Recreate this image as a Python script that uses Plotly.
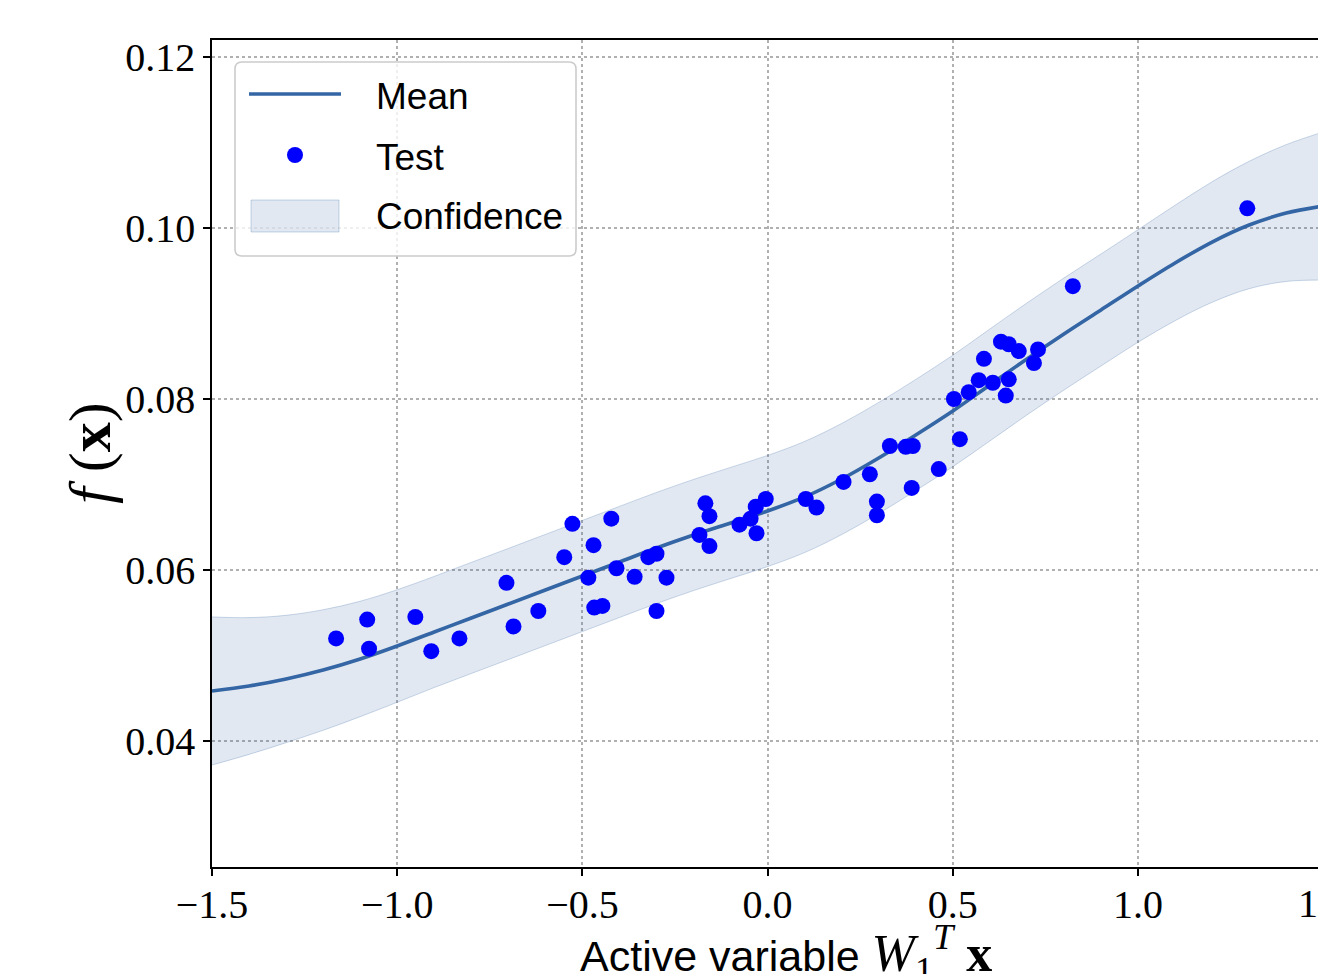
import plotly.graph_objects as go

# ---------------- data ----------------
x_test = [-1.165, -1.081, -1.076, -0.951, -0.908, -0.832, -0.705, -0.686, -0.619, -0.549,
          -0.527, -0.484, -0.470, -0.468, -0.446, -0.422, -0.408, -0.359, -0.322, -0.300,
          -0.300, -0.273, -0.184, -0.168, -0.157, -0.157, -0.076, -0.046, -0.032, -0.030,
          -0.005, 0.103, 0.132, 0.205, 0.276, 0.295, 0.295, 0.330, 0.373, 0.392,
          0.389, 0.462, 0.519, 0.503, 0.543, 0.570, 0.584, 0.608, 0.630, 0.651,
          0.678, 0.651, 0.643, 0.730, 0.719, 0.824, 1.295]
y_test = [0.0520, 0.0542, 0.0508, 0.0545, 0.0505, 0.0520, 0.0585, 0.0534, 0.0552, 0.0615,
          0.0654, 0.0591, 0.0629, 0.0556, 0.0558, 0.0660, 0.0602, 0.0592, 0.0615, 0.0619,
          0.0552, 0.0591, 0.0641, 0.0678, 0.0663, 0.0628, 0.0653, 0.0660, 0.0674, 0.0643,
          0.0683, 0.0683, 0.0673, 0.0703, 0.0712, 0.0680, 0.0664, 0.0745, 0.0744, 0.0745,
          0.0696, 0.0718, 0.0753, 0.0800, 0.0808, 0.0822, 0.0847, 0.0819, 0.0867, 0.0864,
          0.0856, 0.0823, 0.0804, 0.0858, 0.0842, 0.0932, 0.1023]

x_grid = [-1.5, -1.4, -1.3, -1.2, -1.1, -1.0, -0.9, -0.8, -0.7, -0.6, -0.5, -0.4, -0.3,
          -0.2, -0.1, 0.0, 0.1, 0.2, 0.3, 0.4, 0.5, 0.6, 0.7, 0.8, 0.9, 1.0, 1.1, 1.2,
          1.3, 1.4, 1.5]
mean_vals = [0.04585, 0.04643, 0.04725, 0.04830, 0.04959, 0.05111, 0.05275, 0.05439,
             0.05602, 0.05766, 0.05930, 0.06094, 0.06257, 0.06409, 0.06550, 0.06690,
             0.06854, 0.07064, 0.07310, 0.07579, 0.07860, 0.08164, 0.08468, 0.08760,
             0.09041, 0.09322, 0.09591, 0.09836, 0.10035, 0.10175, 0.10257]
half_width = [0.00866, 0.00800, 0.00745, 0.00705, 0.00675, 0.00658, 0.00650, 0.00650,
              0.00650, 0.00650, 0.00650, 0.00650, 0.00650, 0.00650, 0.00650, 0.00650,
              0.00650, 0.00650, 0.00650, 0.00650, 0.00652, 0.00655, 0.00655, 0.00655,
              0.00655, 0.00658, 0.00675, 0.00705, 0.00745, 0.00800, 0.00866]

x_ticks = [-1.5, -1.0, -0.5, 0.0, 0.5, 1.0, 1.5]
x_tick_text = ["\u22121.5", "\u22121.0", "\u22120.5", "0.0", "0.5", "1.0", "1.5"]
y_ticks = [0.04, 0.06, 0.08, 0.10, 0.12]
y_tick_text = ["0.04", "0.06", "0.08", "0.10", "0.12"]

legend_labels = ["Mean", "Test", "Confidence"]

# ---------------- styling ----------------
W, H = 1318, 974
ML, MR, MT, MB = 212, 0, 40, 107
PW, PH = W - ML - MR, H - MT - MB
x_range = [-1.5, 1.4859]
y_range = [0.02526, 0.12199]

LINE_C = "rgb(52,101,164)"
FILL_C = "rgba(52,101,164,0.15)"
EDGE_C = "rgba(52,101,164,0.25)"
DOT_C = "#0000ff"
SERIF = "Liberation Serif, DejaVu Serif, serif"
SANS = "Liberation Sans, Arial, sans-serif"

upper = [m + h for m, h in zip(mean_vals, half_width)]
lower = [m - h for m, h in zip(mean_vals, half_width)]

fig = go.Figure()
fig.add_trace(go.Scatter(x=x_grid, y=upper, mode="lines",
                         line=dict(color=EDGE_C, width=1, shape="spline"),
                         showlegend=False, hoverinfo="skip"))
fig.add_trace(go.Scatter(x=x_grid, y=lower, mode="lines", fill="tonexty",
                         fillcolor=FILL_C,
                         line=dict(color=EDGE_C, width=1, shape="spline"),
                         name="Confidence", showlegend=False, hoverinfo="skip"))
fig.add_trace(go.Scatter(x=x_grid, y=mean_vals, mode="lines",
                         line=dict(color=LINE_C, width=3.6, shape="spline"),
                         name="Mean", showlegend=False))
fig.add_trace(go.Scatter(x=x_test, y=y_test, mode="markers",
                         marker=dict(color=DOT_C, size=16, line=dict(width=0)),
                         name="Test", showlegend=False))


def px2paper_x(px):
    return (px - ML) / PW


def px2paper_y(py):
    return (H - MB - py) / PH


shapes = []
annotations = []

# legend box with rounded corners
bx0, bx1 = px2paper_x(235), px2paper_x(576)
by0, by1 = px2paper_y(256), px2paper_y(62)
rx, ry = 7 / PW, 7 / PH
path = (f"M {bx0+rx},{by0} L {bx1-rx},{by0} Q {bx1},{by0} {bx1},{by0+ry} "
        f"L {bx1},{by1-ry} Q {bx1},{by1} {bx1-rx},{by1} "
        f"L {bx0+rx},{by1} Q {bx0},{by1} {bx0},{by1-ry} "
        f"L {bx0},{by0+ry} Q {bx0},{by0} {bx0+rx},{by0} Z")
shapes.append(dict(type="path", xref="paper", yref="paper", path=path,
                   fillcolor="rgba(255,255,255,0.8)",
                   line=dict(color="#cccccc", width=1.6), layer="above"))
# Mean line symbol
shapes.append(dict(type="line", xref="paper", yref="paper",
                   x0=px2paper_x(249), x1=px2paper_x(341),
                   y0=px2paper_y(94), y1=px2paper_y(94),
                   line=dict(color=LINE_C, width=3.6), layer="above"))
# Test marker symbol
shapes.append(dict(type="circle", xref="paper", yref="paper",
                   x0=px2paper_x(287), x1=px2paper_x(303),
                   y0=px2paper_y(163), y1=px2paper_y(147),
                   fillcolor=DOT_C, line=dict(width=0), layer="above"))
# Confidence patch
shapes.append(dict(type="rect", xref="paper", yref="paper",
                   x0=px2paper_x(251), x1=px2paper_x(339),
                   y0=px2paper_y(232), y1=px2paper_y(200),
                   fillcolor=FILL_C, line=dict(color=EDGE_C, width=1), layer="above"))

for lab, py in zip(legend_labels, [96, 157, 217]):
    annotations.append(dict(text=lab, xref="paper", yref="paper",
                            x=px2paper_x(374), y=px2paper_y(py),
                            xanchor="left", yanchor="middle", showarrow=False,
                            font=dict(family=SANS, size=37, color="black")))

# last x tick label (partly outside the visible area, as in the reference)
annotations.append(dict(text=x_tick_text[-1], xref="paper", yref="paper",
                        x=(x_ticks[-1] - x_range[0]) / (x_range[1] - x_range[0]),
                        y=0, yanchor="top", xanchor="center", yshift=-12,
                        showarrow=False, font=dict(family=SERIF, size=40, color="black")))

# axis titles
annotations.append(dict(
    text=("<span style='font-family:Liberation Sans;font-size:43px'>Active variable </span>"
          "<i>W</i><sub>1</sub><sup><i>T</i></sup> <b>x</b>"),
    xref="paper", yref="paper", x=px2paper_x(786), y=px2paper_y(953),
    xanchor="center", yanchor="middle", showarrow=False,
    font=dict(family=SERIF, size=52, color="black")))
annotations.append(dict(
    text="<i>f</i> (<b>x</b>)", textangle=-90,
    xref="paper", yref="paper", x=px2paper_x(90), y=px2paper_y(453),
    xanchor="center", yanchor="middle", showarrow=False,
    font=dict(family=SERIF, size=60, color="black")))

fig.update_layout(
    width=W, height=H,
    margin=dict(l=ML, r=MR, t=MT, b=MB, pad=0),
    paper_bgcolor="white", plot_bgcolor="white",
    shapes=shapes, annotations=annotations,
    showlegend=False,
    xaxis=dict(range=x_range, tickvals=x_ticks, ticktext=x_tick_text,
               showgrid=True, gridcolor="#b0b0b0", griddash="dot", gridwidth=1.6,
               zeroline=False, showline=True, linecolor="black", linewidth=1.6,
               mirror=True, ticks="outside", ticklen=7, tickwidth=1.6, tickcolor="black",
               ticklabelstandoff=-6,
               tickfont=dict(family=SERIF, size=40, color="black")),
    yaxis=dict(range=y_range, tickvals=y_ticks, ticktext=y_tick_text,
               showgrid=True, gridcolor="#b0b0b0", griddash="dot", gridwidth=1.6,
               zeroline=False, showline=True, linecolor="black", linewidth=1.6,
               mirror=False, ticks="outside", ticklen=7, tickwidth=1.6, tickcolor="black",
               tickfont=dict(family=SERIF, size=40, color="black")),
)

fig.write_html(
    "out.html",
    config={"displayModeBar": False},
    post_script="document.body.style.margin='0';document.body.style.overflow='hidden';",
)
